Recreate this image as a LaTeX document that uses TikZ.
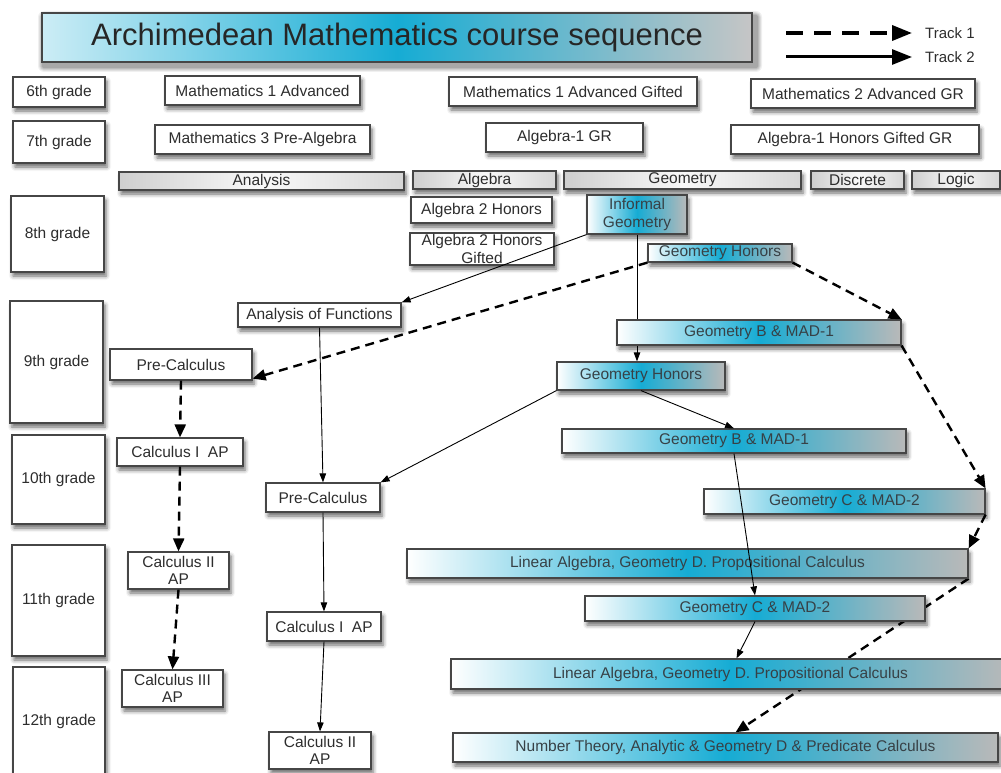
\documentclass[tikz,border=0pt]{standalone}
\usepackage{fontspec}
\setmainfont{Liberation Sans}
\usetikzlibrary{arrows.meta,shadows,shadows.blur}
\definecolor{cyanB}{RGB}{22,172,212}
\definecolor{edge}{RGB}{70,70,70}
\definecolor{txt}{RGB}{45,45,45}
\definecolor{gtxt}{RGB}{55,65,70}
\pgfdeclarelayer{back}
\pgfdeclarelayer{bg}
\pgfsetlayers{back,bg,main}
\newcommand\bx[7]{\node[#6, minimum width={#4-#2}, minimum height={#5-#3}] (#1) at ({(#2+#4)/2},{(#3+#5)/2}) {#7};}
\begin{document}
\begin{tikzpicture}[x=1pt,y=-1pt,
 plain/.style={draw=edge, line width=1.2pt, inner sep=0pt, text=txt,
   font=\fontsize{15.5}{17.5}\selectfont, align=center},
 base/.style={plain,
   blur shadow={shadow xshift=2pt, shadow yshift=-4pt, shadow blur radius=4pt, shadow opacity=60}},
 wbox/.style={base, fill=white},
 gbox/.style={base, text=gtxt, left color=white, right color=gray!55, middle color=cyanB},
 titlebox/.style={plain, left color=cyanB!22, right color=gray!45, middle color=cyanB,
   font=\fontsize{31}{34}\selectfont, text=black!85},
 bar/.style={base, left color=gray!38, right color=gray!32, middle color=gray!5},
 t1/.style={line width=2.4pt, dash pattern=on 9pt off 6pt, -{Triangle[length=13pt,width=11pt]}},
 t2/.style={line width=0.9pt, -{Triangle[length=9pt,width=6.5pt]}},
 lab/.style={inner sep=0pt, anchor=west, text=txt, font=\fontsize{15}{17}\selectfont},
 tshadow/.style={fill=black, draw=none},
]
\useasboundingbox (0,0) rectangle (1001,773);
\begin{pgfonlayer}{back}
\fill[white] (0,0) rectangle (1001,773);
\end{pgfonlayer}
\clip (0,0) rectangle (1001,773);
% off-page warm-up of the blur shadow (absorbs a first-use artefact)
\node[wbox, minimum width=20, minimum height=20] (warm) at (1300,1300) {};

% title shadow (soft, layered)
\foreach \s/\o in {6/0.06,5/0.07,4/0.08,3/0.09,2/0.1}{
  \fill[tshadow, opacity=\o, rounded corners=\s pt] ({44-\s},{17-\s}) rectangle ({756+\s},{66+\s});
}
% title and legend
\bx{title}{42}{13}{752}{62}{titlebox}{Archimedean Mathematics course sequence}
\coordinate (l1a) at (786,33); \coordinate (l1b) at (912,33);
\coordinate (l2a) at (786,57); \coordinate (l2b) at (912,57);
\node[lab] (tr1) at (925,33) {Track 1};
\node[lab] (tr2) at (925,57) {Track 2};
\draw[line width=3.5pt, dash pattern=on 17pt off 11pt, -{Triangle[length=20pt,width=15pt]}] (l1a) -- (l1b);
\draw[line width=3pt, -{Triangle[length=20pt,width=15pt]}] (l2a) -- (l2b);

% grades
\bx{g6}{13}{77}{105}{107}{wbox}{6th grade}
\bx{g7}{13}{121}{105}{163}{wbox}{7th grade}
\bx{g8}{11}{196}{104}{272}{wbox}{8th grade}
\bx{g9}{10}{301}{103}{423}{wbox}{9th grade}
\bx{g10}{12}{435}{105}{524}{wbox}{10th grade}
\bx{g11}{12}{545}{105}{656}{wbox}{11th grade}
\bx{g12}{13}{667}{105}{776}{wbox}{12th grade}

% 6th / 7th
\bx{m1a}{165}{76}{360}{105}{wbox}{Mathematics 1 Advanced}
\bx{m1g}{449}{77}{697}{106}{wbox}{Mathematics 1 Advanced Gifted}
\bx{m2a}{751}{79}{975}{108}{wbox}{Mathematics 2 Advanced GR}
\bx{m3}{155}{125}{370}{154}{wbox}{Mathematics 3 Pre-Algebra}
\bx{a1}{486}{123}{643}{152}{wbox}{Algebra-1 GR}
\bx{a1h}{731}{125}{979}{154}{wbox}{Algebra-1 Honors Gifted GR}

% categories
\bx{cA}{119}{172}{404}{190}{bar}{Analysis}
\bx{cAl}{413}{171}{556}{189}{bar}{Algebra}
\bx{cG}{564}{171}{801}{189}{bar}{Geometry}
\bx{cD}{811}{171}{904}{189}{bar}{Discrete}
\bx{cL}{912}{171}{1000}{189}{bar}{Logic}

% 8th
\bx{a2h}{411}{197}{552}{223}{wbox}{Algebra 2 Honors}
\bx{a2g}{410}{233}{554}{265}{wbox}{Algebra 2 Honors\\Gifted}
\bx{ig}{587}{195}{687}{234}{gbox}{Informal\\Geometry}
\bx{gh1}{648}{244}{792}{262}{gbox}{Geometry Honors}

% 9th
\bx{af}{238}{303}{401}{327}{wbox}{Analysis of Functions}
\bx{pc9}{110}{349}{252}{380}{wbox}{Pre-Calculus}
\bx{gb1}{617}{320}{901}{345}{gbox}{Geometry B \& MAD-1}
\bx{gh2}{557}{362}{725}{390}{gbox}{Geometry Honors}

% 10th
\bx{c1l}{117}{438}{243}{466}{wbox}{Calculus I\ \ AP}
\bx{gb2}{562}{429}{906}{453}{gbox}{Geometry B \& MAD-1}
\bx{pcr}{266}{483}{380}{512}{wbox}{Pre-Calculus}
\bx{gc1}{704}{489}{985}{514}{gbox}{Geometry C \& MAD-2}

% 11th
\bx{c2l}{128}{552}{229}{589}{wbox}{Calculus II\\AP}
\bx{la1}{407}{549}{968}{578}{gbox}{Linear Algebra, Geometry D. Propositional Calculus}
\bx{gc2}{585}{596}{925}{621}{gbox}{Geometry C \& MAD-2}
\bx{c1r}{267}{612}{381}{641}{wbox}{Calculus I\ \ AP}

% 12th
\bx{la2}{451}{659}{1010}{689}{gbox}{Linear Algebra, Geometry D. Propositional Calculus}
\bx{c3l}{122}{670}{223}{707}{wbox}{Calculus III\\AP}
\bx{nt}{453}{733}{998}{762}{gbox}{Number Theory, Analytic \& Geometry D \& Predicate Calculus}
\bx{c2r}{269}{732}{371}{769}{wbox}{Calculus II\\AP}

% connectors behind boxes
\begin{pgfonlayer}{bg}
\draw[t2] (ig.south) -- (ig.south |- gh2.north);
\draw[t1] (la1.south east) -- ([xshift=10pt]nt.north);
\end{pgfonlayer}

% track 2 (solid)
\draw[t2] (ig.south west) -- (af.north east);
\draw[t2] (af.south) -- (pcr.north);
\draw[t2] (pcr.south) -- (c1r.north);
\draw[t2] (c1r.south) -- (c2r.north);
\draw[t2] (gh2.south west) -- (pcr.north east);
\draw[t2] (gh2.south) -- (gb2.north);
\draw[t2] (gb2.south) -- (gc2.north);
\draw[t2] (gc2.south) -- ([xshift=6pt]la2.north);

% track 1 (dashed)
\draw[t1] (gh1.south west) -- ([yshift=2pt]pc9.south east);
\draw[t1] (gh1.south east) -- (gb1.north east);
\draw[t1] (gb1.south east) -- (gc1.north east);
\draw[t1] (gc1.south east) -- (la1.north east);
\draw[t1] (pc9.south) -- (c1l.north);
\draw[t1] (c1l.south) -- (c2l.north);
\draw[t1] (c2l.south) -- (c3l.north);
\end{tikzpicture}
\end{document}
